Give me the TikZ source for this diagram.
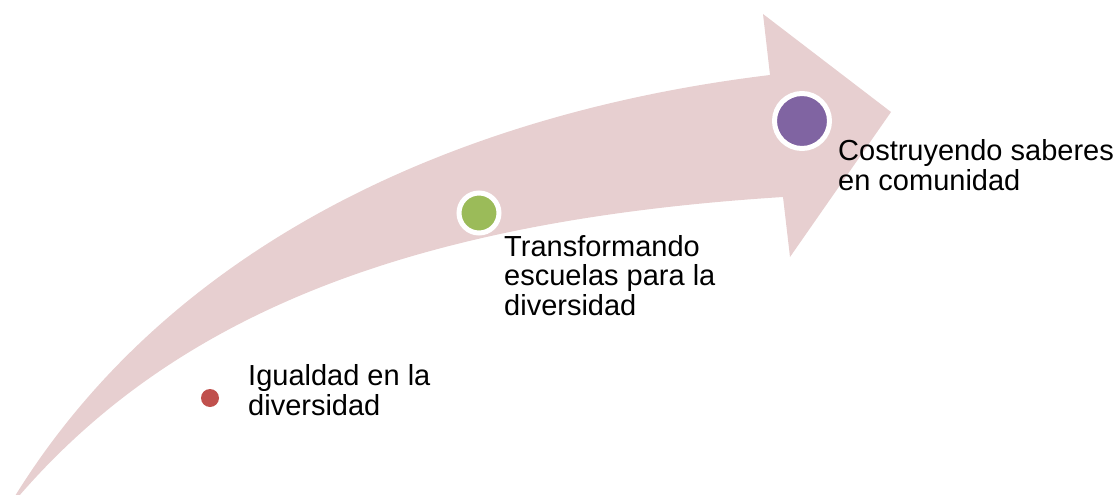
\documentclass[tikz,border=0pt]{standalone}
\usepackage{fontspec}
\setmainfont{Liberation Sans}
\definecolor{arrowpink}{RGB}{231,207,208}
\definecolor{dotred}{RGB}{192,80,77}
\definecolor{dotgreen}{RGB}{155,187,89}
\definecolor{dotpurple}{RGB}{128,100,162}
\tikzset{
  stagetext/.style={anchor=base west, align=left, inner sep=0pt,
    font=\fontsize{29}{29.5}\selectfont},
  stagedot/.style={circle, inner sep=0pt, draw=white, line width=5pt}
}
\begin{document}
\begin{tikzpicture}[x=1pt,y=-1pt]
                \useasboundingbox (0,0) rectangle (1119,495);
                \clip (0,0) rectangle (1119,495);
                \fill [arrowpink] (15,496) .. controls (180,230) and (480,110) .. (770,75)
                      -- (763,14) -- (891,112) -- (790,257) -- (783,197)
                      .. controls (420,220) and (180,310) .. (19,496) -- cycle;
                \node [circle, fill=dotred, inner sep=0pt, minimum size=18pt] (d1) at (210,398) {};
                \node [stagedot, fill=dotgreen, minimum size=40pt] (d2) at (479,213) {};
                \node [stagedot, fill=dotpurple, minimum size=55pt] (d3) at (802,121) {};
                % base anchor sits on the last line
                \node [stagetext] (t1) at (248,415) {Igualdad en la\\diversidad};
                \node [stagetext] (t2) at (504,315) {Transformando\\escuelas para la\\diversidad};
                \node [stagetext] (t3) at (838,190) {Costruyendo saberes\\en comunidad};
\end{tikzpicture}
\end{document}
